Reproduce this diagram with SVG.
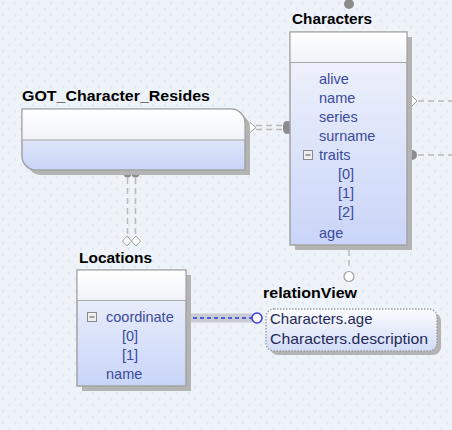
<svg xmlns="http://www.w3.org/2000/svg" width="452" height="430" viewBox="0 0 452 430">
<defs>
<pattern id="bg" width="12" height="12" patternUnits="userSpaceOnUse">
<rect width="12" height="12" fill="#eef3fa"/>
<path d="M4 1.5 L2 3 L4 4.5" fill="none" stroke="#d9e0ea" stroke-width="0.8"/>
<path d="M10 7.5 L8 9 L10 10.5" fill="none" stroke="#d9e0ea" stroke-width="0.8"/>
</pattern>
<linearGradient id="body" x1="0" y1="0" x2="0" y2="1">
<stop offset="0" stop-color="#f3f5fc"/>
<stop offset="1" stop-color="#c9d5f8"/>
</linearGradient>
<linearGradient id="head" x1="0" y1="0" x2="0" y2="1">
<stop offset="0" stop-color="#ffffff"/>
<stop offset="1" stop-color="#f1f3f9"/>
</linearGradient>
<linearGradient id="rv" x1="0" y1="0" x2="0" y2="1">
<stop offset="0" stop-color="#fbfcff"/>
<stop offset="1" stop-color="#d3dcf8"/>
</linearGradient>
</defs>
<style>
.title{font-family:"Liberation Sans",Arial,sans-serif;font-weight:bold;font-size:15px;fill:#000}
.fld{font-family:"Liberation Sans",Arial,sans-serif;font-size:14.5px;fill:#3b4a9c}
.rvt{font-family:"Liberation Sans",Arial,sans-serif;font-size:15px;fill:#1e2a55}
.box{stroke:#a3a3a3;stroke-width:1.5}
.shadow{fill:#b4b4b4}
.sep{stroke:#a8a8a8;stroke-width:1.2}
.dash{fill:none;stroke:#b9b9b9;stroke-width:1.5;stroke-dasharray:6 4}
.icon{fill:#eeeeee;stroke:#8a8a8a;stroke-width:1}
.iconm{stroke:#6a6a6a;stroke-width:1.2}
</style>
<rect width="452" height="430" fill="url(#bg)"/>

<g id="connectors">
  <!-- top dot of Characters -->
  <circle cx="349" cy="4" r="5" fill="#8c8c8c"/>
  <!-- right connectors -->
  <line x1="418" y1="101" x2="452" y2="101" class="dash" stroke-dasharray="9 6"/>
  <path d="M407 101 L412 96 L417 101 L412 106 Z" fill="#ffffff" stroke="#a0a0a0" stroke-width="1"/>
  <line x1="418" y1="155" x2="452" y2="155" class="dash" stroke-dasharray="9 6"/>
  <circle cx="412" cy="155" r="5" fill="#8c8c8c"/>
  <!-- GOT to Characters -->
  <line x1="256" y1="125.5" x2="282" y2="125.5" class="dash" stroke-dasharray="9 4"/>
  <line x1="256" y1="129.5" x2="282" y2="129.5" class="dash" stroke-dasharray="9 4"/>
  <path d="M245 127.5 L250 122.5 L256 127.5 L250 132.5 Z" fill="#ffffff" stroke="#a0a0a0" stroke-width="1"/>
  <path d="M290 121 A6 6.5 0 0 0 290 134 Z" fill="#8c8c8c"/>
  <rect x="283" y="121" width="7" height="13" rx="5" fill="#8c8c8c"/>
  <!-- GOT to Locations -->
  <line x1="127.5" y1="178" x2="127.5" y2="236" class="dash" stroke-dasharray="10 5"/>
  <line x1="135.5" y1="178" x2="135.5" y2="236" class="dash" stroke-dasharray="10 5"/>
  <circle cx="127.5" cy="173.5" r="4" fill="#8c8c8c"/>
  <circle cx="135.5" cy="173.5" r="4" fill="#8c8c8c"/>
  <path d="M127 236 L131.5 241 L127 246 L122.5 241 Z" fill="#ffffff" stroke="#a0a0a0" stroke-width="1"/>
  <path d="M136 236 L140.5 241 L136 246 L131.5 241 Z" fill="#ffffff" stroke="#a0a0a0" stroke-width="1"/>
  <!-- Characters to relationView -->
  <line x1="349" y1="250" x2="349" y2="270" class="dash" stroke-dasharray="3 5"/>
  <circle cx="349" cy="276.5" r="5" fill="#ffffff" stroke="#a0a0a0" stroke-width="1.2"/>
  <!-- Locations to relationView -->
  <line x1="186" y1="318" x2="252" y2="318" stroke="#c9ccd3" stroke-width="9"/>
  <line x1="186" y1="318" x2="252" y2="318" stroke="#2a33e0" stroke-width="1.5" stroke-dasharray="4 3"/>
  <circle cx="257" cy="318" r="5" fill="#ffffff" stroke="#3a3ae8" stroke-width="1.6"/>
</g>

<g id="Characters">
  <text x="292" y="24" class="title" textLength="80" lengthAdjust="spacingAndGlyphs">Characters</text>
  <rect x="295" y="37" width="117" height="213" class="shadow"/>
  <rect x="290" y="32" width="117" height="213" fill="url(#body)" class="box"/>
  <rect x="290.75" y="32.75" width="115.5" height="29" fill="url(#head)"/>
  <line x1="290" y1="62.5" x2="407" y2="62.5" class="sep"/>
  <text x="319" y="84" class="fld">alive</text>
  <text x="319" y="103" class="fld">name</text>
  <text x="319" y="122" class="fld">series</text>
  <text x="319" y="141" class="fld">surname</text>
  <rect x="303.5" y="150.5" width="9" height="9" class="icon"/>
  <line x1="305.5" y1="155" x2="310.5" y2="155" class="iconm"/>
  <text x="319" y="160" class="fld">traits</text>
  <text x="338" y="179" class="fld">[0]</text>
  <text x="338" y="198" class="fld">[1]</text>
  <text x="338" y="217" class="fld">[2]</text>
  <text x="319" y="238" class="fld">age</text>
</g>

<g id="GOT_Character_Resides">
  <text x="22" y="101" class="title" textLength="188" lengthAdjust="spacingAndGlyphs">GOT_Character_Resides</text>
  <path d="M27 114 H236 A14 14 0 0 1 250 128 V175 H41 A14 14 0 0 1 27 161 Z" class="shadow"/>
  <path d="M22 109 H231 A14 14 0 0 1 245 123 V170 H36 A14 14 0 0 1 22 156 Z" fill="url(#body)" class="box"/>
  <path d="M22.75 109.75 H231 A13.25 13.25 0 0 1 244.25 123 V139.5 H22.75 Z" fill="url(#head)"/>
  <line x1="22" y1="140" x2="245" y2="140" class="sep"/>
</g>

<g id="Locations">
  <text x="79" y="263" class="title" textLength="73" lengthAdjust="spacingAndGlyphs">Locations</text>
  <rect x="82" y="275" width="109" height="116" class="shadow"/>
  <rect x="77" y="270" width="109" height="116" fill="url(#body)" class="box"/>
  <rect x="77.75" y="270.75" width="107.5" height="29" fill="url(#head)"/>
  <line x1="77" y1="300.5" x2="186" y2="300.5" class="sep"/>
  <rect x="87.5" y="312.5" width="9" height="9" class="icon"/>
  <line x1="89.5" y1="317" x2="94.5" y2="317" class="iconm"/>
  <text x="106" y="322" class="fld">coordinate</text>
  <text x="122" y="341" class="fld">[0]</text>
  <text x="122" y="360" class="fld">[1]</text>
  <text x="106" y="379" class="fld">name</text>
</g>

<g id="relationView">
  <text x="263" y="298" class="title" textLength="94" lengthAdjust="spacingAndGlyphs">relationView</text>
  <rect x="270" y="313" width="171" height="42" rx="8" fill="#b4b4b4"/>
  <rect x="266" y="309" width="171" height="42" rx="8" fill="url(#rv)" stroke="#a0a0a0" stroke-width="1.5" stroke-dasharray="1.5 1.5"/>
  <text x="270" y="324" class="rvt">Characters.age</text>
  <text x="270" y="344" class="rvt" textLength="158" lengthAdjust="spacingAndGlyphs">Characters.description</text>
</g>
</svg>
